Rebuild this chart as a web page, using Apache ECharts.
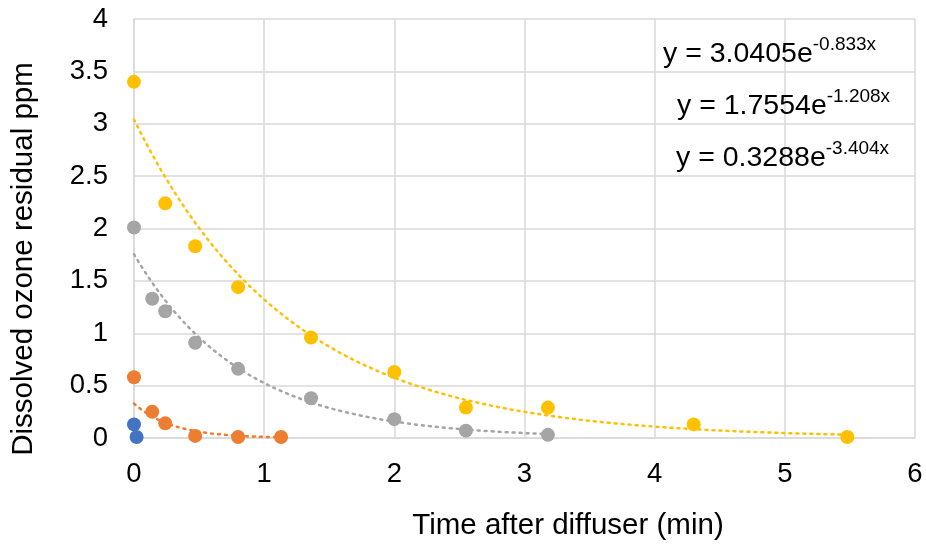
<!DOCTYPE html>
<html>
<head>
<meta charset="utf-8">
<script src="https://cdn.jsdelivr.net/npm/echarts@6/dist/echarts.min.js"></script>
<style>
  html, body { margin: 0; padding: 0; background: #fff; }
  #chart { width: 926px; height: 548px; }
</style>
</head>
<body>
<div id="chart"></div>
<script>
// data
var yellowX = [0, 0.24, 0.47, 0.8, 1.36, 2.0, 2.55, 3.18, 4.3, 5.48];
var yellowY = [3.4, 2.24, 1.83, 1.44, 0.96, 0.63, 0.29, 0.29, 0.13, 0.01];
var grayX = [0, 0.14, 0.24, 0.47, 0.8, 1.36, 2.0, 2.55, 3.18];
var grayY = [2.01, 1.33, 1.21, 0.91, 0.66, 0.38, 0.18, 0.07, 0.03];
var orangeX = [0, 0.14, 0.24, 0.47, 0.8, 1.13];
var orangeY = [0.58, 0.25, 0.14, 0.02, 0.01, 0.01];
var blueX = [0, 0.02];
var blueY = [0.13, 0.01];

// exponential trendlines as printed on the chart: y = a * e^(b x)
var trendA = [3.0405, 1.7554, 0.3288];
var trendB = [-0.833, -1.208, -3.404];
var trendEnd = [5.48, 3.18, 1.13];
var trendColors = ['#FFC000', '#A5A5A5', '#ED7D31'];
var trendLabels = ['3.0405', '1.7554', '0.3288'];
var trendExp = ['-0.833x', '-1.208x', '-3.404x'];

function pairs(xs, ys) {
    return xs.map(function (x, i) { return [x, ys[i]]; });
}

function trend(k) {
    var pts = [];
    var n = 80;
    for (var i = 0; i <= n; i++) {
        var x = trendEnd[k] * i / n;
        pts.push([x, trendA[k] * Math.exp(trendB[k] * x)]);
    }
    return pts;
}

var font = '"Liberation Sans", Arial, sans-serif';
var chart = echarts.init(document.getElementById('chart'));

var series = [];
for (var k = 0; k < 3; k++) {
    series.push({
        type: 'line',
        data: trend(k),
        showSymbol: false,
        silent: true,
        z: 1,
        lineStyle: { color: trendColors[k], width: 2.5, type: [2, 5], cap: 'round' }
    });
}
var scatterSets = [
    [yellowX, yellowY, '#FFC000'],
    [grayX, grayY, '#A5A5A5'],
    [orangeX, orangeY, '#ED7D31'],
    [blueX, blueY, '#4472C4']
];
scatterSets.forEach(function (s) {
    series.push({
        type: 'scatter',
        data: pairs(s[0], s[1]),
        symbolSize: 14,
        z: 3,
        itemStyle: { color: s[2], opacity: 1 }
    });
});

var eqPos = [[663, 35], [677, 87], [676, 139]];
var graphics = eqPos.map(function (p, k) {
    return {
        type: 'text',
        left: p[0],
        top: p[1],
        z: 10,
        style: {
            text: '{m|y = ' + trendLabels[k] + 'e}{s|' + trendExp[k] + '}',
            rich: {
                m: { fontSize: 28.5, fontFamily: font, fill: '#000', verticalAlign: 'bottom', lineHeight: 34 },
                s: { fontSize: 19, fontFamily: font, fill: '#000', verticalAlign: 'top', padding: [0, 0, 14, 0] }
            }
        }
    };
});
// axis titles placed where the original has them
graphics.push({
    type: 'text',
    x: 24,
    y: 259,
    rotation: Math.PI / 2,
    style: {
        text: 'Dissolved ozone residual ppm',
        fontSize: 29.5,
        fontFamily: font,
        fill: '#000',
        align: 'center',
        verticalAlign: 'middle'
    }
});
graphics.push({
    type: 'text',
    x: 568,
    y: 526,
    style: {
        text: 'Time after diffuser (min)',
        fontSize: 29.5,
        fontFamily: font,
        fill: '#000',
        align: 'center',
        verticalAlign: 'middle'
    }
});

chart.setOption({
    animation: false,
    backgroundColor: '#fff',
    textStyle: { fontFamily: font },
    grid: { left: 134, right: 11, top: 19, bottom: 110, containLabel: false },
    xAxis: {
        type: 'value',
        min: 0, max: 6, interval: 1,
        axisLine: { show: true, lineStyle: { color: '#D9D9D9', width: 1.5 } },
        axisTick: { show: false },
        axisLabel: { fontSize: 27.5, color: '#000', margin: 22, fontFamily: font },
        splitLine: { show: true, lineStyle: { color: '#D9D9D9', width: 1.5 } }
    },
    yAxis: {
        type: 'value',
        min: 0, max: 4, interval: 0.5,
        axisLine: { show: true, lineStyle: { color: '#D9D9D9', width: 1.5 } },
        axisTick: { show: false },
        axisLabel: { fontSize: 27.5, color: '#000', margin: 26, fontFamily: font },
        splitLine: { show: true, lineStyle: { color: '#D9D9D9', width: 1.5 } }
    },
    graphic: graphics,
    series: series
});
</script>
</body>
</html>
